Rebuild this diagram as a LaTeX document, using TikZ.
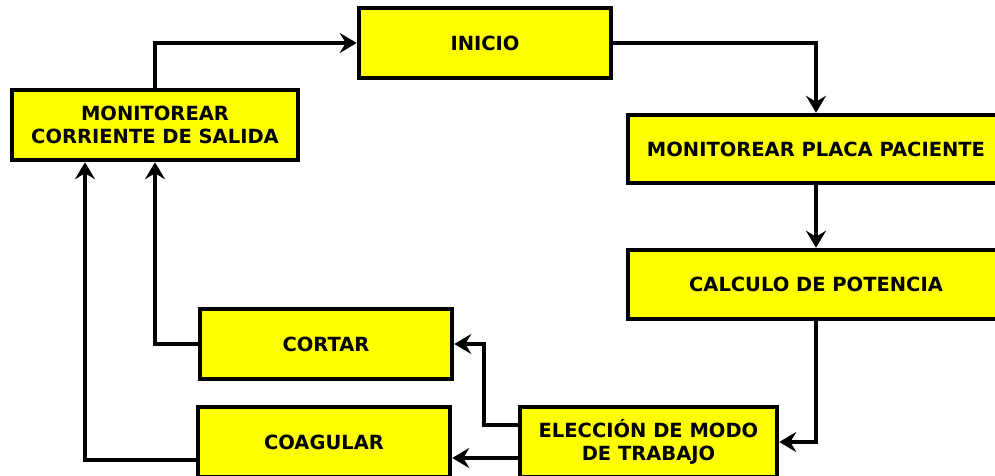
\documentclass[tikz,border=0pt]{standalone}
\usepackage{fontspec}
\setmainfont{DejaVu Sans}
\usetikzlibrary{arrows.meta,calc}
\definecolor{boxyellow}{HTML}{FFFF00}
\tikzset{
  flowbox/.style={draw=black, line width=4.5pt, fill=boxyellow, inner sep=0pt,
    font=\fontsize{19.5}{23.5}\selectfont\bfseries, align=center},
  conn/.style={line width=3.6pt, -{Stealth[length=17pt,width=20pt,inset=6pt]}},
}
\begin{document}
\begin{tikzpicture}[x=1pt,y=1pt]
\useasboundingbox (0,0) rectangle (995,476);
\clip (0,0) rectangle (995,476);
\node[flowbox, minimum width=252pt, minimum height=70pt] (ini) at (485,433) {INICIO};
\node[flowbox, minimum width=286pt, minimum height=70pt] (mcs) at (155,351) {MONITOREAR\\CORRIENTE DE SALIDA};
\node[flowbox, minimum width=376pt, minimum height=68pt] (mpp) at (816,327) {MONITOREAR PLACA PACIENTE};
\node[flowbox, minimum width=376pt, minimum height=69pt] (cp) at (816,191.5) {CALCULO DE POTENCIA};
\node[flowbox, minimum width=252pt, minimum height=70pt] (cort) at (326,132) {CORTAR};
\node[flowbox, minimum width=252pt, minimum height=70pt] (coag) at (324,34) {COAGULAR};
\node[flowbox, minimum width=257pt, minimum height=70pt] (el) at (648.5,34) {ELECCIÓN DE MODO\\DE TRABAJO};
\draw[conn] (mcs.north) |- (ini.west);
\draw[conn] (ini.east) -| (mpp.north);
\draw[conn] (mpp.south) -- (cp.north);
\draw[conn] (cp.south) |- (el.east);
\draw[conn] ([yshift=17pt]el.west) -- ++(-34,0) |- (cort.east);
\draw[conn] ([yshift=-16pt]el.west) -- ([yshift=-16pt]el.west -| coag.east);
\draw[conn] (cort.west) -| (mcs.south);
\draw[conn] ([yshift=-18pt]coag.west) -| ([xshift=-70pt]mcs.south);
\end{tikzpicture}
\end{document}
